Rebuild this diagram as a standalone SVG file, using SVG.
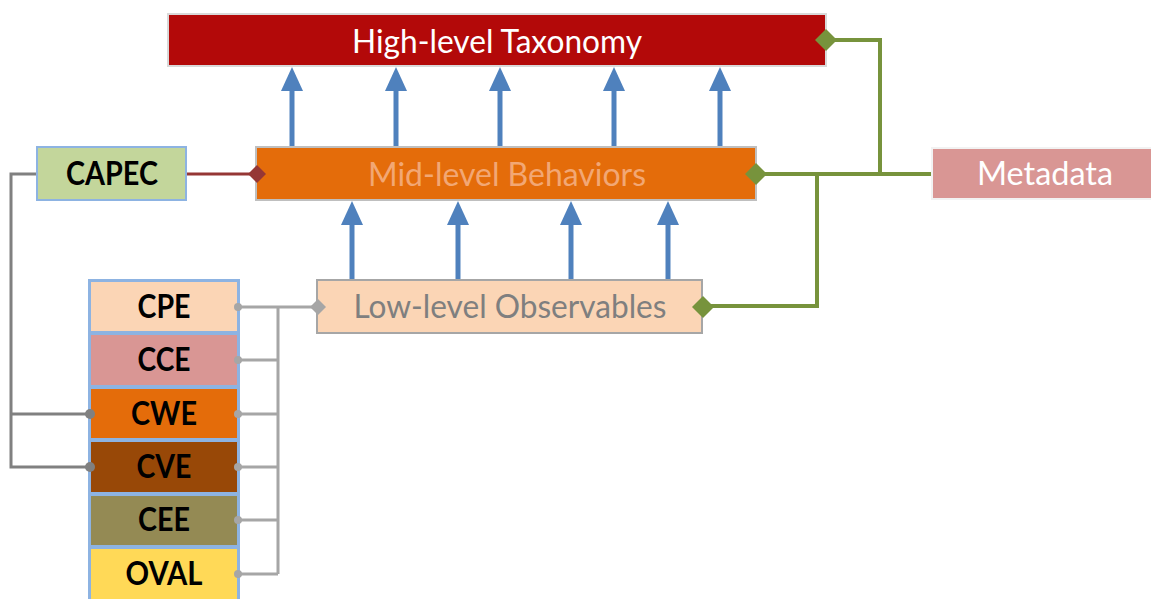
<svg xmlns="http://www.w3.org/2000/svg" width="1151" height="599" viewBox="0 0 1151 599">
<style>
.lbl{font-family:Lato,"Liberation Sans",sans-serif;font-size:33px;text-anchor:middle}
.b{font-weight:bold;fill:#000}
.w{fill:#fff}
.col{stroke:#8DB3E2;stroke-width:2}
.blue{stroke:#4F81BD;stroke-width:5;fill:none;marker-end:url(#ah)}
.green{stroke:#77933C;stroke-width:4;fill:none}
.gr{stroke:#A6A6A6;stroke-width:3;fill:none}
.gd{stroke:#808080;stroke-width:3;fill:none}
</style>
<defs>
<marker id="ah" markerUnits="userSpaceOnUse" viewBox="0 0 24 22" refX="12" refY="11" markerWidth="24" markerHeight="22" orient="auto">
<path d="M0,0 L24,11 L0,22 Z" fill="#4F81BD"/>
</marker>
</defs>
<g id="high">
<rect x="168" y="14" width="658" height="52" fill="#B30909" stroke="#D9D9D9" stroke-width="2"/>
<text class="lbl w" x="497" y="53" textLength="290" lengthAdjust="spacingAndGlyphs">High-level Taxonomy</text>
</g>
<g id="mid">
<rect x="256" y="147" width="500" height="53" fill="#E46C0A" stroke="#BFBFBF" stroke-width="2"/>
<text class="lbl" x="507" y="186" fill="#F2A774" textLength="278" lengthAdjust="spacingAndGlyphs">Mid-level Behaviors</text>
</g>
<g id="metadata">
<rect x="932" y="148" width="220" height="51" fill="#D99694" stroke="#F2F2F2" stroke-width="2"/>
<text class="lbl w" x="1045" y="185" textLength="136" lengthAdjust="spacingAndGlyphs">Metadata</text>
</g>
<g id="low">
<rect x="317" y="280" width="385" height="53" fill="#FBD5B5" stroke="#A6A6A6" stroke-width="2"/>
<text class="lbl" x="510" y="318" fill="#7F7F7F" textLength="313" lengthAdjust="spacingAndGlyphs">Low-level Observables</text>
</g>
<g id="capec">
<rect x="37" y="147" width="149" height="53" fill="#C3D69B" class="col"/>
<text class="lbl b" x="112" y="185" textLength="92" lengthAdjust="spacingAndGlyphs">CAPEC</text>
</g>
<rect x="89" y="280" width="150" height="322" fill="none" class="col"/>
<g id="cpe">
<rect x="90" y="281" width="148" height="51" fill="#FBD5B5" class="col"/>
<text class="lbl b" x="164" y="318" textLength="53" lengthAdjust="spacingAndGlyphs">CPE</text>
</g>
<g id="cce">
<rect x="90" y="334" width="148" height="52" fill="#D99694" class="col"/>
<text class="lbl b" x="164" y="371" textLength="53" lengthAdjust="spacingAndGlyphs">CCE</text>
</g>
<g id="cwe">
<rect x="90" y="388" width="148" height="51" fill="#E46C0A" class="col"/>
<text class="lbl b" x="164" y="425" textLength="66" lengthAdjust="spacingAndGlyphs">CWE</text>
</g>
<g id="cve">
<rect x="90" y="441" width="148" height="52" fill="#984807" class="col"/>
<text class="lbl b" x="164" y="478" textLength="55" lengthAdjust="spacingAndGlyphs">CVE</text>
</g>
<g id="cee">
<rect x="90" y="495" width="148" height="51" fill="#948A54" class="col"/>
<text class="lbl b" x="164" y="531" textLength="52" lengthAdjust="spacingAndGlyphs">CEE</text>
</g>
<g id="oval">
<rect x="90" y="548" width="148" height="53" fill="#FFD957" class="col"/>
<text class="lbl b" x="164" y="585" textLength="77" lengthAdjust="spacingAndGlyphs">OVAL</text>
</g>
<g id="connectors">
<path class="blue" d="M292 146V79"/><path class="blue" d="M396 146V79"/><path class="blue" d="M500 146V79"/><path class="blue" d="M614 146V79"/><path class="blue" d="M720 146V79"/>
<path class="blue" d="M352 279V213"/><path class="blue" d="M458 279V213"/><path class="blue" d="M571 279V213"/><path class="blue" d="M668 279V213"/>
<path class="green" d="M830 40H880V174M760 174H931M817 174V306H707"/>
<path d="M187 174H250" stroke="#953735" stroke-width="3"/>
<path class="gd" d="M36 174H11V467H90M11 414H90"/>
<path class="gr" d="M239 307H312M239 360H278M239 414H278M239 467H278M239 520H278M239 574H278M278 307V574"/>
<path d="M826 29L837 40L826 51L815 40Z" fill="#77933C"/>
<path d="M756 163L767 174L756 185L745 174Z" fill="#77933C"/>
<path d="M703 296L714 307L703 318L692 307Z" fill="#77933C"/>
<path d="M257 165L266 174L257 183L248 174Z" fill="#953735"/>
<path d="M318 299L326 307L318 315L310 307Z" fill="#A6A6A6"/>
<circle cx="90" cy="414" r="5" fill="#808080"/>
<circle cx="90" cy="467" r="5" fill="#808080"/>
<g fill="#A6A6A6">
<circle cx="238" cy="307" r="4"/><circle cx="238" cy="360" r="4"/><circle cx="238" cy="414" r="4"/>
<circle cx="238" cy="467" r="4"/><circle cx="238" cy="520" r="4"/><circle cx="238" cy="574" r="4"/>
</g>
</g>
</svg>
